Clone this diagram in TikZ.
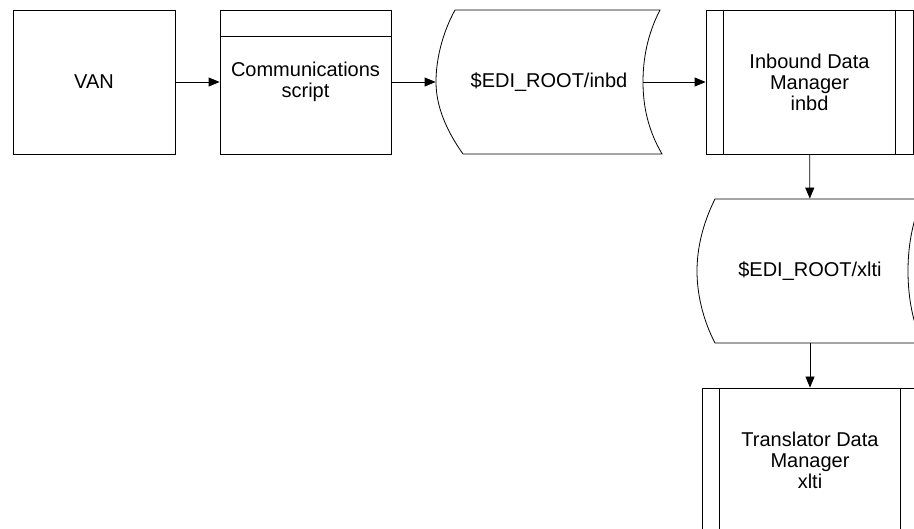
\documentclass[tikz,border=0pt]{standalone}
\usepackage{fontspec}
\setmainfont{Liberation Sans}
\usetikzlibrary{arrows.meta}
\usetikzlibrary{calc}

\begin{document}
\begin{tikzpicture}[x=1pt,y=-1pt,line width=0.8pt]

            \tikzstyle{stepbox} = [draw, minimum width=162pt, minimum height=144pt, align=center, font=\fontsize{20}{21}\selectfont];
            \tikzstyle{datastore} = [minimum width=226pt, minimum height=144pt, align=center, font=\fontsize{20}{21}\selectfont];
            \tikzstyle{flow} = [-{Triangle[length=11pt,width=9pt]}];

            \useasboundingbox (0,0) rectangle (914,529);
            \clip (0,0) rectangle (914,529);

            \node[stepbox] (van) at (94,82) {VAN};
            \node[stepbox, minimum width=171pt] (comm) at (305.5,82) {Communications\\script};
            \node[datastore] (inbd) at (549,82) {\$EDI\_ROOT/inbd};
            \node[stepbox, minimum width=207pt] (idm) at (809.5,82) {Inbound Data\\Manager\\inbd};
            \node[datastore] (xlti) at (810,271) {\$EDI\_ROOT/xlti};
            \node[stepbox, minimum width=216pt] (tdm) at (810,460) {Translator Data\\Manager\\xlti};

            % header line and side bars
            \draw (comm.north west) ++(0,27) -- ++(171,0);
            \draw ($(idm.north west)+(18,0)$) -- ($(idm.south west)+(18,0)$);
            \draw ($(idm.north east)+(-18,0)$) -- ($(idm.south east)+(-18,0)$);
            \draw ($(tdm.north west)+(18,0)$) -- ($(tdm.south west)+(18,0)$);
            \draw ($(tdm.north east)+(-18,0)$) -- ($(tdm.south east)+(-18,0)$);

            % stored data outlines
            \draw (455,10) -- (660,10) .. controls (647,35) and (643,60) .. (643,82) coordinate (inbdout)
                  .. controls (643,106) and (648,130) .. (662,154) -- (463,154)
                  .. controls (446,130) and (436,106) .. (436,82)
                  .. controls (436,58) and (443,32) .. (455,10) -- cycle;
            \draw (715,199) -- (922,199) .. controls (911,225) and (908,250) .. (908,271)
                  .. controls (908,292) and (911,318) .. (922,343) -- (715,343)
                  .. controls (702,318) and (697,292) .. (697,271)
                  .. controls (697,250) and (702,225) .. (715,199) -- cycle;

            \draw[flow] (van) -- (comm);
            \draw[flow] (comm) -- (inbd);
            \draw[flow] (inbdout) -- (idm.west);
            \draw[flow] (idm) -- (xlti);
            \draw[flow] (xlti) -- (tdm);
          \end{tikzpicture}
\end{document}
